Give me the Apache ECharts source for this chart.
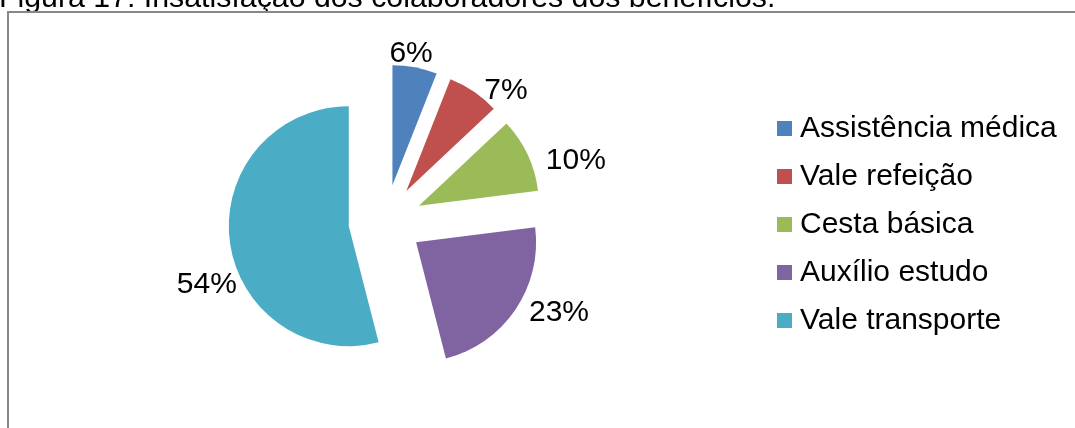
<!DOCTYPE html>
<html>
<head>
<meta charset="utf-8">
<script src="https://cdn.jsdelivr.net/npm/echarts@6/dist/echarts.min.js"></script>
<style>
html,body{margin:0;padding:0;background:#fff;}
#c{width:1075px;height:428px;}
</style>
</head>
<body>
<div id="c"></div>
<script>
const titleText = 'Figura 17: Insatisfação dos colaboradores dos benefícios.';
const categories = ['Assistência médica', 'Vale refeição', 'Cesta básica', 'Auxílio estudo', 'Vale transporte'];
const values = [6, 7, 10, 23, 54];
const colors = ['#4F81BD', '#C0504D', '#9BBB59', '#8064A2', '#4BACC6'];
// label nudges (Excel-like placement of data labels), in pixels
const labelNudgeX = [-32, 1, 6, 2, 20];
const labelNudgeY = [-6, 6, 9, -2, 43];

const FONT = '"Liberation Sans", Arial, sans-serif';
const chart = echarts.init(document.getElementById('c'), null, {renderer: 'canvas'});
chart.setOption({
  animation: false,
  backgroundColor: '#ffffff',
  graphic: [
    {type: 'text', left: -1, top: -16, z: 1,
     style: {text: titleText, font: '30.3px ' + FONT, fill: '#000'}},
    {type: 'rect', shape: {x: 8, y: 12, width: 1200, height: 600}, z: 2,
     style: {fill: '#ffffff', stroke: '#878787', lineWidth: 2}}
  ],
  legend: {
    orient: 'vertical',
    left: 777,
    top: 113.5,
    padding: 0,
    itemWidth: 15,
    itemHeight: 15,
    itemGap: 18,
    icon: 'rect',
    selectedMode: false,
    z: 5,
    textStyle: {fontSize: 30, fontFamily: FONT, color: '#000', lineHeight: 30, padding: [0, 0, 0, 3]},
    data: categories
  },
  series: [{
    type: 'pie',
    z: 5,
    center: [385.5, 221.5],
    radius: 120,
    startAngle: 90,
    clockwise: true,
    selectedMode: 'multiple',
    selectedOffset: 37,
    avoidLabelOverlap: false,
    emphasis: {disabled: true},
    label: {
      show: true,
      position: 'outside',
      formatter: '{d}%',
      fontSize: 30,
      fontFamily: FONT,
      color: '#000',
      distanceToLabelLine: 5
    },
    labelLine: {show: false, length: 8, length2: 0},
    labelLayout: function (p) {
      return {dx: labelNudgeX[p.dataIndex], dy: labelNudgeY[p.dataIndex]};
    },
    data: categories.map((n, i) => ({
      name: n, value: values[i], selected: true,
      itemStyle: {color: colors[i]}
    }))
  }]
});
</script>
</body>
</html>
